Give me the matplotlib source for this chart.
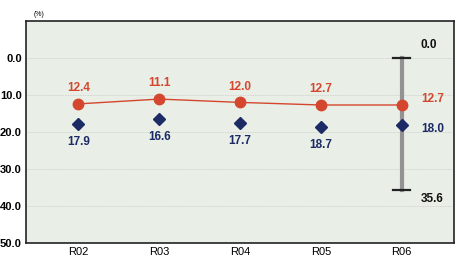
import numpy as np
import matplotlib
matplotlib.use("Agg")
import matplotlib.pyplot as plt

plt.rcParams['font.family'] = ['Liberation Sans', 'DejaVu Sans']

years = ["R02", "R03", "R04", "R05", "R06"]
rate_red = [12.4, 11.1, 12.0, 12.7, 12.7]
rate_navy = [17.9, 16.6, 17.7, 18.7, 18.0]
range_low = 0.0
range_high = 35.6
y_ticks = [0, 10, 20, 30, 40, 50]

RED = "#d4472e"
NAVY = "#1c2a66"

fig = plt.figure(figsize=(4.57, 2.64), dpi=100)
ax = fig.add_axes([26 / 457, 1 - 243 / 264, (454 - 26) / 457, (243 - 21) / 264])
ax.set_facecolor("#e9eee7")

x = np.arange(len(years))

# range bar on the last year
ax.plot([x[-1], x[-1]], [range_low, range_high], color="#939393", lw=3, zorder=2)
for v in (range_low, range_high):
    ax.plot([x[-1] - 0.1, x[-1] + 0.1], [v, v], color="#222222", lw=1.6, zorder=3)

ax.plot(x, rate_red, color=RED, lw=1, marker="o", ms=7.5, zorder=4)
ax.plot(x, rate_navy, ls="none", color=NAVY, marker="D", ms=6, zorder=4)

for i in range(len(years) - 1):
    ax.text(x[i], rate_red[i] - 2.6, f"{rate_red[i]:.1f}", color=RED,
            ha="center", va="bottom", fontsize=8.5, fontweight="bold")
    ax.text(x[i], rate_navy[i] + 3.2, f"{rate_navy[i]:.1f}", color=NAVY,
            ha="center", va="top", fontsize=8.5, fontweight="bold")

xr = x[-1] + 0.24
ax.text(xr, range_low - 3.5, f"{range_low:.1f}", color="#111111",
        ha="left", va="center", fontsize=8.5, fontweight="bold")
ax.text(xr, rate_red[-1] - 1.7, f"{rate_red[-1]:.1f}", color=RED,
        ha="left", va="center", fontsize=8.5, fontweight="bold")
ax.text(xr, rate_navy[-1] + 1.2, f"{rate_navy[-1]:.1f}", color=NAVY,
        ha="left", va="center", fontsize=8.5, fontweight="bold")
ax.text(xr, range_high + 2.6, f"{range_high:.1f}", color="#111111",
        ha="left", va="center", fontsize=8.5, fontweight="bold")

ax.set_xlim(-0.65, 4.65)
ax.set_ylim(50, -10)
ax.set_yticks(y_ticks)
ax.set_yticklabels([f"{v:.1f}" for v in y_ticks], fontsize=8, fontweight="bold")
ax.set_xticks(x)
ax.set_xticklabels(years, fontsize=8)
ax.tick_params(length=0, pad=3)
for v in y_ticks[:-1]:
    ax.axhline(v, color="#c9cdc7", lw=0.6, ls=(0, (1, 1)), zorder=1)
for s in ax.spines.values():
    s.set_color("#222222")
    s.set_linewidth(1.2)

fig.text(34 / 457, 1 - 14 / 264, "(%)", fontsize=5, ha="left", va="center")

fig.savefig("out.png", dpi=100)
